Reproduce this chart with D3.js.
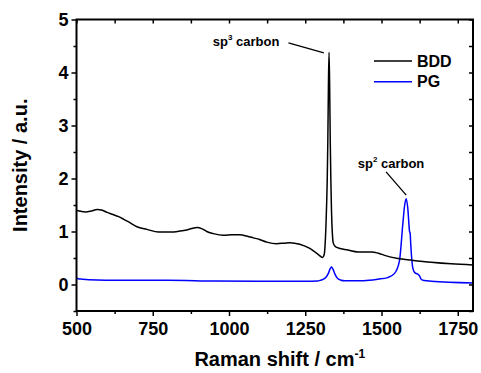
<!DOCTYPE html>
<html>
<head>
<meta charset="utf-8">
<script src="https://cdn.jsdelivr.net/npm/d3@7"></script>
<style>
  body { margin: 0; background: #fff; }
  svg text { font-family: "Liberation Sans", Arial, sans-serif; font-weight: bold; fill: #000; }
  .axis path, .axis line { stroke: #000; }
</style>
</head>
<body>
<svg id="chart" width="481" height="373"></svg>
<script>
// Raman shift (cm-1) and intensity
const bddShift = [500, 515, 529, 545, 568, 585, 600, 620, 638, 655, 671, 698, 731, 769, 813, 851, 875, 895, 912, 927, 949, 982, 1010, 1036, 1060, 1080, 1100, 1124, 1156, 1180, 1200, 1232, 1265, 1292, 1307, 1312, 1316, 1320, 1322, 1324, 1326, 1328, 1330, 1332, 1334, 1336, 1339, 1342, 1348, 1353, 1390, 1423, 1467, 1490, 1510, 1554, 1598, 1663, 1729, 1800];
const bddIntensity = [1.40, 1.38, 1.37, 1.38, 1.415, 1.40, 1.36, 1.32, 1.28, 1.23, 1.18, 1.09, 1.04, 0.99, 0.99, 1.02, 1.05, 1.075, 1.05, 1.00, 0.96, 0.93, 0.94, 0.94, 0.91, 0.88, 0.85, 0.80, 0.77, 0.78, 0.79, 0.76, 0.68, 0.57, 0.51, 0.56, 0.85, 1.5, 1.95, 2.7, 3.75, 4.38, 3.75, 2.7, 1.95, 1.4, 0.95, 0.78, 0.72, 0.70, 0.65, 0.615, 0.615, 0.59, 0.55, 0.49, 0.46, 0.42, 0.39, 0.37];

const pgShift = [500, 505, 519, 540, 650, 800, 950, 1100, 1250, 1290, 1300, 1315, 1325, 1331, 1336, 1341, 1347, 1355, 1365, 1380, 1420, 1460, 1488, 1520, 1543, 1559, 1570, 1576, 1581, 1586, 1592, 1594, 1596, 1603, 1610, 1618, 1625, 1630, 1640, 1663, 1800];
const pgIntensity = [0.125, 0.11, 0.10, 0.09, 0.08, 0.08, 0.065, 0.06, 0.06, 0.065, 0.08, 0.12, 0.2, 0.29, 0.33, 0.29, 0.2, 0.12, 0.085, 0.07, 0.07, 0.08, 0.10, 0.13, 0.21, 0.45, 1.15, 1.5, 1.62, 1.45, 1.0, 0.96, 0.75, 0.30, 0.22, 0.20, 0.16, 0.10, 0.075, 0.062, 0.03];

const seriesNames = ["BDD", "PG"];
const seriesColors = ["#000000", "#0000ff"];

const xMajor = [500, 750, 1000, 1250, 1500, 1750];
const xMinor = [625, 875, 1125, 1375, 1625];
const yMajor = [0, 1, 2, 3, 4, 5];
const yMinor = [-0.5, 0.5, 1.5, 2.5, 3.5, 4.5];

// annotation anchors in data units
const sp3Label = {x: 947, y: 4.50, lx1: 1195, ly1: 4.56, lx2: 1311, ly2: 4.37, sup: "3"};
const sp2Label = {x: 1422, y: 2.20, lx1: 1515, ly1: 2.125, lx2: 1581, ly2: 1.685, sup: "2"};

const margin = {top: 19.5, right: 8, bottom: 62, left: 76.5};
const W = 481, H = 373;

const svg = d3.select('#chart');

const x = d3.scaleLinear()
  .domain([500, 1800])
  .range([margin.left, W - margin.right]);
const y = d3.scaleLinear()
  .domain([-0.5, 5])
  .range([H - margin.bottom, margin.top]);

const x0 = margin.left, x1 = W - margin.right;
const y0 = H - margin.bottom, y1 = margin.top;

// curves
const bdd = bddShift.map((d, i) => ({x: d, y: bddIntensity[i]}));
const pg = pgShift.map((d, i) => ({x: d, y: pgIntensity[i]}));

const line = d3.line()
  .x(d => x(d.x))
  .y(d => y(d.y))
  .curve(d3.curveMonotoneX);

svg.append('defs').append('clipPath').attr('id', 'clip')
  .append('rect').attr('x', x0).attr('y', y1).attr('width', x1 - x0).attr('height', y0 - y1);

const plot = svg.append('g').attr('clip-path', 'url(#clip)');
plot.append('path').datum(pg)
  .attr('d', line).attr('fill', 'none')
  .attr('stroke', seriesColors[1]).attr('stroke-width', 1.5);
plot.append('path').datum(bdd)
  .attr('d', line).attr('fill', 'none')
  .attr('stroke', seriesColors[0]).attr('stroke-width', 1.5);

// axes
function styleAxis(g) {
  g.select('.domain').remove();
  g.selectAll('line').attr('stroke-width', 1.5);
}
const fmt = d3.format('d');

svg.append('g').attr('class', 'axis')
  .attr('transform', `translate(0,${y0})`)
  .call(d3.axisBottom(x).tickValues(xMajor).tickSize(5).tickPadding(6).tickFormat(fmt))
  .call(styleAxis)
  .selectAll('text').style('font-size', '18px');
svg.append('g').attr('class', 'axis')
  .attr('transform', `translate(0,${y0})`)
  .call(d3.axisBottom(x).tickValues(xMinor).tickSize(3).tickFormat(''))
  .call(styleAxis);

svg.append('g').attr('class', 'axis')
  .attr('transform', `translate(${x0},0)`)
  .call(d3.axisLeft(y).tickValues(yMajor).tickSize(5).tickPadding(3).tickFormat(fmt))
  .call(styleAxis)
  .selectAll('text').style('font-size', '18px');
svg.append('g').attr('class', 'axis')
  .attr('transform', `translate(${x0},0)`)
  .call(d3.axisLeft(y).tickValues(yMinor).tickSize(3).tickFormat(''))
  .call(styleAxis);

svg.append('g').attr('class', 'axis')
  .attr('transform', `translate(0,${y1})`)
  .call(d3.axisTop(x).tickValues(xMajor.concat(xMinor)).tickSize(-4).tickFormat(''))
  .call(styleAxis);
svg.append('g').attr('class', 'axis')
  .attr('transform', `translate(${x1},0)`)
  .call(d3.axisRight(y).tickValues(yMajor.concat(yMinor)).tickSize(-4).tickFormat(''))
  .call(styleAxis);

// frame
svg.append('rect')
  .attr('x', x0).attr('y', y1)
  .attr('width', x1 - x0).attr('height', y0 - y1)
  .attr('fill', 'none').attr('stroke', '#000').attr('stroke-width', 2);

// axis titles
const xt = svg.append('text')
  .attr('x', (x0 + x1) / 2 + 5).attr('y', 366)
  .attr('text-anchor', 'middle')
  .style('font-size', '20px');
xt.append('tspan').text('Raman shift / cm');
xt.append('tspan').attr('dy', -8).style('font-size', '12px').text('-1');

svg.append('text')
  .attr('transform', `translate(27,${(y0 + y1) / 2}) rotate(-90)`)
  .attr('text-anchor', 'middle')
  .style('font-size', '20px')
  .text('Intensity / a.u.');

// legend
const legend = svg.append('g').attr('transform', 'translate(374,61)');
seriesNames.forEach((name, i) => {
  const g = legend.append('g').attr('transform', `translate(0,${i * 20.7})`);
  g.append('line').attr('x1', 0).attr('x2', 38).attr('y1', 0).attr('y2', 0)
    .attr('stroke', seriesColors[i]).attr('stroke-width', 1.5);
  g.append('text').attr('x', 43).attr('y', 5.5)
    .style('font-size', '16px').text(name);
});

// peak annotations
[sp3Label, sp2Label].forEach(a => {
  const t = svg.append('text')
    .attr('x', x(a.x)).attr('y', y(a.y))
    .style('font-size', '13px');
  t.append('tspan').text('sp');
  t.append('tspan').attr('dy', -6).style('font-size', '8px').text(a.sup);
  t.append('tspan').attr('dy', 6).text(' carbon');
  svg.append('line')
    .attr('x1', x(a.lx1)).attr('y1', y(a.ly1))
    .attr('x2', x(a.lx2)).attr('y2', y(a.ly2))
    .attr('stroke', '#000').attr('stroke-width', 1.3);
});
</script>
</body>
</html>
